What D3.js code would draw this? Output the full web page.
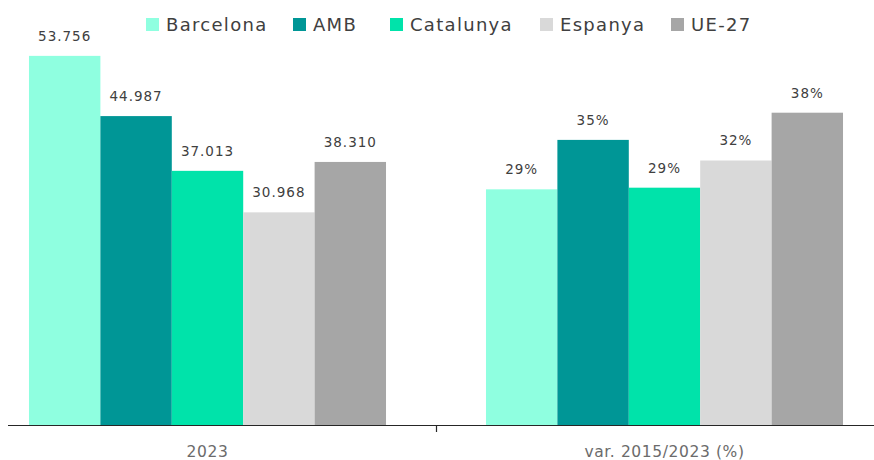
<html>
<head>
    <script src="https://d3js.org/d3.v7.min.js"></script>
    <style>
        body { margin: 0; background: #fff; }
        text { font-family: "DejaVu Sans", sans-serif; }
        .value { font-size: 13.5px; fill: #404040; letter-spacing: 1px; }
        .legend text { font-size: 18px; fill: #404040; letter-spacing: 1.3px; }
        .cat { font-size: 15.5px; fill: #6b6b6b; letter-spacing: 0.6px; }
    </style>
</head>
<body>
<div id="chart"></div>
<script>
    // Data ***********************
    var categories = ["2023", "var. 2015/2023 (%)"];
    var series = ["Barcelona", "AMB", "Catalunya", "Espanya", "UE-27"];
    var values2023 = [53756, 44987, 37013, 30968, 38310];
    var valuesVar = [0.286, 0.346, 0.288, 0.321, 0.379];
    var colors = ["#8fffe0", "#009696", "#00e3aa", "#d9d9d9", "#a6a6a6"];

    var width = 874, height = 460;
    var baseline = 425, plotTop = 13;
    // legend item left edges (layout only)
    var legendX = [146, 293, 390, 540, 671];

    var svg = d3.select("#chart").append("svg")
        .attr("width", width)
        .attr("height", height);

    // scales
    var x0 = d3.scaleBand().domain(categories).range([-21, 893]);
    var x1 = d3.scaleBand().domain(series).range([0, x0.bandwidth()]).paddingOuter(0.7);
    var yLeft = d3.scaleLinear().domain([0, 60000]).range([baseline, plotTop]);
    var yRight = d3.scaleLinear().domain([0, 0.5]).range([baseline, plotTop]);

    var ca = d3.formatLocale({decimal: ",", thousands: ".", grouping: [3], currency: ["", "€"]});
    var fmtNum = ca.format(",d");
    var fmtPct = d3.format(".0%");

    var groups = [
        {cat: categories[0], vals: values2023, y: yLeft, fmt: fmtNum},
        {cat: categories[1], vals: valuesVar, y: yRight, fmt: fmtPct}
    ];

    groups.forEach(function(g) {
        var data = series.map(function(s, i) { return {name: s, v: g.vals[i], c: colors[i]}; });
        var gg = svg.append("g").attr("transform", "translate(" + x0(g.cat) + ",0)");
        gg.selectAll("rect").data(data).enter().append("rect")
            .attr("x", function(d) { return x1(d.name); })
            .attr("width", x1.bandwidth())
            .attr("y", function(d) { return g.y(d.v); })
            .attr("height", function(d) { return baseline - g.y(d.v); })
            .attr("fill", function(d) { return d.c; });
        gg.selectAll("text.value").data(data).enter().append("text")
            .attr("class", "value")
            .attr("text-anchor", "middle")
            .attr("x", function(d) { return x1(d.name) + x1.bandwidth() / 2; })
            .attr("y", function(d) { return g.y(d.v) - 15; })
            .text(function(d) { return g.fmt(d.v); });
    });

    // x axis
    svg.append("line")
        .attr("x1", 8).attr("x2", width)
        .attr("y1", baseline + 0.5).attr("y2", baseline + 0.5)
        .attr("stroke", "#262626").attr("stroke-width", 1.2);
    svg.append("line")
        .attr("x1", x0(categories[1]) + 0.5).attr("x2", x0(categories[1]) + 0.5)
        .attr("y1", baseline).attr("y2", baseline + 7)
        .attr("stroke", "#262626").attr("stroke-width", 1.2);
    svg.selectAll("text.cat").data(categories).enter().append("text")
        .attr("class", "cat")
        .attr("text-anchor", "middle")
        .attr("x", function(d) { return x0(d) + x0.bandwidth() / 2; })
        .attr("y", 457)
        .text(function(d) { return d; });

    // legend
    var legend = svg.append("g").attr("class", "legend");
    series.forEach(function(s, i) {
        legend.append("rect")
            .attr("x", legendX[i]).attr("y", 18)
            .attr("width", 13).attr("height", 13)
            .attr("fill", colors[i]);
        legend.append("text")
            .attr("x", legendX[i] + 20).attr("y", 31)
            .text(s);
    });
</script>
</body>
</html>
